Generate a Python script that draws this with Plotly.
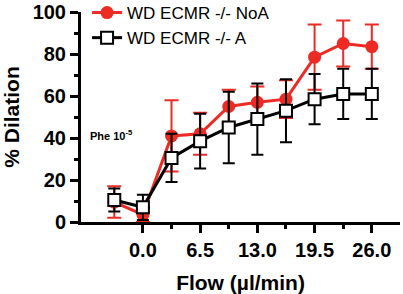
import plotly.graph_objects as go

flow = [-3.25, 0, 3.25, 6.5, 9.75, 13, 16.25, 19.5, 22.75, 26]
noa_mean = [9.5, 3.5, 41, 42, 55, 57, 58.5, 78.5, 85, 83.5]
noa_err = [7.5, 3.5, 17, 10, 8, 7.5, 9, 15.5, 11, 10.5]
a_mean = [10.5, 7, 30.5, 38.5, 45, 49, 53, 58.5, 61, 61]
a_err = [5.5, 6, 11.5, 13, 17, 17, 15, 12, 12, 12]
x_tickvals = [0, 6.5, 13, 19.5, 26]
x_ticktext = ["0.0", "6.5", "13.0", "19.5", "26.0"]
x_minor = [3.25, 9.75, 16.25, 22.75]

RED = "#EE2A24"
FONT = "Liberation Sans, Arial, sans-serif"

fig = go.Figure()
fig.add_trace(go.Scatter(
    x=flow, y=noa_mean, name="WD ECMR -/- NoA", mode="lines+markers",
    line=dict(color=RED, width=3),
    marker=dict(symbol="circle", size=13, color=RED),
    error_y=dict(type="data", array=noa_err, color=RED, thickness=2, width=7),
    cliponaxis=False,
))
fig.add_trace(go.Scatter(
    x=flow, y=a_mean, name="WD ECMR -/- A", mode="lines+markers",
    line=dict(color="black", width=3),
    marker=dict(symbol="square", size=12, color="white", line=dict(color="black", width=2)),
    error_y=dict(type="data", array=a_err, color="black", thickness=2, width=6),
    cliponaxis=False,
))

fig.add_annotation(x=-6.2, y=41.5, xref="x", yref="y", xanchor="left", yanchor="middle",
                   text="<b>Phe 10<sup>-5</sup></b>", showarrow=False,
                   font=dict(family=FONT, size=11, color="black"))

fig.update_layout(
    width=403, height=294,
    margin=dict(l=81, r=3, t=12, b=72, autoexpand=False),
    paper_bgcolor="white", plot_bgcolor="white",
    font=dict(family=FONT, color="black"),
    showlegend=True,
    legend=dict(x=0.019, y=1.081, xanchor="left", yanchor="top",
                font=dict(family=FONT, size=17, color="black"),
                bgcolor="rgba(0,0,0,0)", tracegroupgap=0, itemwidth=30),
    xaxis=dict(
        range=[-7.03, 29.2], showgrid=False, zeroline=False, automargin=False,
        showline=True, linecolor="black", linewidth=3,
        tickmode="array", tickvals=x_tickvals, ticktext=x_ticktext,
        ticks="outside", ticklen=8, tickwidth=3, tickcolor="black",
        tickfont=dict(family=FONT, size=20, color="black", weight="bold"),
        minor=dict(tickmode="array", tickvals=x_minor, ticks="outside", ticklen=4,
                   tickwidth=3, tickcolor="black", showgrid=False),
        title=dict(text="<b>Flow (µl/min)</b>", font=dict(family=FONT, size=21, color="black"),
                   standoff=19),
    ),
    yaxis=dict(
        range=[0, 100], showgrid=False, zeroline=False, automargin=False,
        showline=True, linecolor="black", linewidth=3,
        tickmode="linear", tick0=0, dtick=20,
        ticks="outside", ticklen=8, tickwidth=3, tickcolor="black",
        tickfont=dict(family=FONT, size=20, color="black", weight="bold"),
        minor=dict(tick0=10, dtick=20, ticks="outside", ticklen=4,
                   tickwidth=3, tickcolor="black", showgrid=False),
        title=dict(text="<b>% Dilation</b>", font=dict(family=FONT, size=21, color="black"),
                   standoff=8),
    ),
)

fig.write_html("out.html", config={"displayModeBar": False},
               post_script="document.body.style.margin='0';")
